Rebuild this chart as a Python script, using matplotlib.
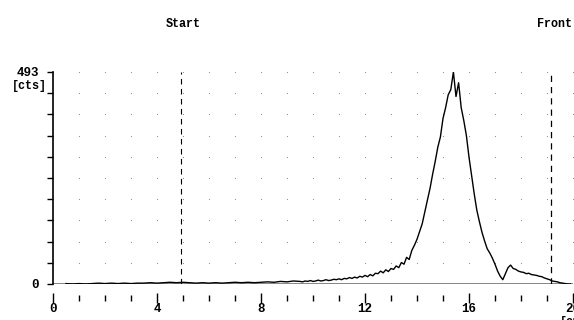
import numpy as np
import matplotlib
matplotlib.use('Agg')
import matplotlib.pyplot as plt
import matplotlib.transforms as mtransforms

# scan positions [cm]
pos_flat = np.round(np.arange(0.5, 9.3, 0.25), 2)
pos_rise = np.round(np.arange(9.5, 12.45, 0.1), 2)
pos_peak = np.round(np.arange(12.5, 19.95, 0.1), 2)

cts_flat = [1, 0, 1, 0, 1, 2, 1, 2, 1, 2, 1, 2, 2, 3, 2, 3, 4, 3,
            4, 3, 2, 3, 2, 3, 2, 3, 4, 3, 4, 3, 4, 5, 4, 6, 5, 7]
cts_rise = [6, 5, 7, 6, 8, 6, 7, 9, 7, 8, 10, 8, 9, 11, 10, 12, 10, 13,
            12, 15, 13, 16, 14, 18, 16, 20, 17, 22, 19, 25]
cts_peak = [24, 30, 26, 33, 29, 36, 34, 42, 38, 50, 46, 62, 57, 78, 90,
            104, 122, 140, 168, 195, 222, 255, 285, 318, 342, 385, 410,
            440, 452, 493, 436, 468, 410, 380, 345, 295, 252, 210, 172,
            145, 120, 100, 82, 72, 60, 46, 30, 18, 10, 24, 38, 44, 36,
            34, 30, 28, 27, 24, 25, 22, 21, 20, 18, 17, 14, 12, 10, 7,
            6, 5, 3, 2, 1, 0, 0]

pos = np.concatenate([pos_flat, pos_rise, pos_peak])
cts = np.array(cts_flat + cts_rise + cts_peak)

y_max = 493
start_pos = 4.92
front_pos = 19.15

font = dict(family=['Liberation Mono', 'DejaVu Sans Mono'], fontweight='bold', fontsize=8.5)
numfont = dict(family=['Liberation Mono', 'DejaVu Sans Mono'], fontweight='bold', fontsize=9)

fig = plt.figure(figsize=(5.74, 3.2), dpi=100)
fig.patch.set_facecolor('white')
ax = fig.add_axes([53 / 574, 36 / 320, 520 / 574, 212 / 320])

# dotted grid
levels = np.linspace(0, y_max, 11)[1:]
gx, gy = np.meshgrid(np.arange(1, 21), levels)
ax.scatter(gx.ravel(), gy.ravel(), s=0.7, color='#8a8a8a', linewidths=0, zorder=1)

ax.axhline(0, color='#7a7a7a', lw=2, zorder=2)
ax.plot(pos, cts, color='black', lw=1.0, zorder=3)

ax.axvline(start_pos, color='black', lw=0.8, ls=(0, (5, 4)), zorder=2)
ax.axvline(front_pos, color='black', lw=0.9, ls=(0, (5, 4)), zorder=2)

ax.set_xlim(0, 20)
ax.set_ylim(0, y_max)

for s in ['top', 'right']:
    ax.spines[s].set_visible(False)
ax.spines['left'].set_linewidth(1.2)
ax.spines['bottom'].set_position(('outward', 10))
ax.spines['bottom'].set_color('none')

ax.set_yticks(np.linspace(0, y_max, 11))
ax.set_yticklabels(['0'] + [''] * 9 + ['493'], **numfont)
ax.tick_params(axis='y', length=4, width=1, pad=6)

ax.set_xticks(np.arange(0, 21, 4))
ax.set_xticklabels([str(v) for v in range(0, 21, 4)], **numfont)
ax.set_xticks(np.arange(0, 21, 1), minor=True)
ax.tick_params(axis='x', which='major', direction='inout', length=7, width=1, pad=0)
ax.tick_params(axis='x', which='minor', direction='inout', length=4, width=1)

ax.text(-0.25, y_max - 32, '[cts]', ha='right', va='center', **font)

trans = mtransforms.blended_transform_factory(ax.transData, ax.transAxes)
ax.text(start_pos + 0.1, 1.225, 'Start', ha='center', va='center', transform=trans, **font)
ax.text(front_pos + 0.12, 1.225, 'Front', ha='center', va='center', transform=trans, **font)
ax.text(19.5, -0.18, '[cm]', ha='left', va='center', transform=trans, **font)

fig.savefig('out.png', dpi=100, facecolor='white')
plt.close(fig)
